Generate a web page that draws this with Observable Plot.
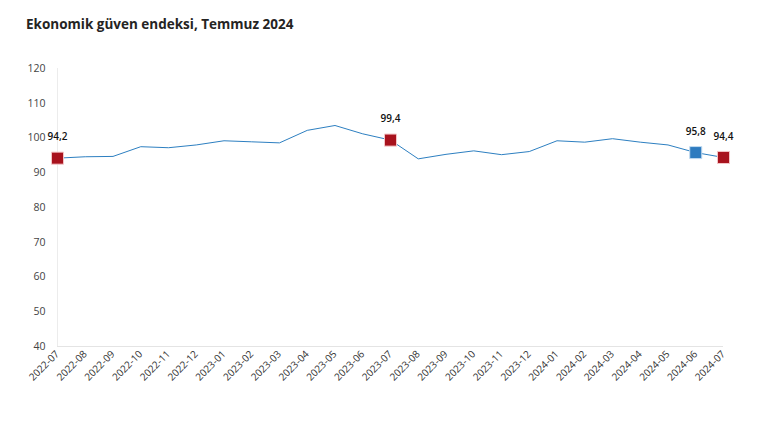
<!DOCTYPE html>
<html>
<head>
<meta charset="utf-8">
<script src="https://cdn.jsdelivr.net/npm/d3@7"></script>
<script src="https://cdn.jsdelivr.net/npm/@observablehq/plot@0.6"></script>
<style>
  html, body { margin: 0; padding: 0; background: #fff; }
  body { width: 761px; height: 421px; overflow: hidden; font-family: "Open Sans", "Noto Sans", sans-serif; }
  #title { position: absolute; left: 26px; top: 15px; font-size: 13.5px; font-weight: 700; color: #252423; letter-spacing: 0; }
  #chart { position: absolute; left: 0; top: 45px; }
</style>
</head>
<body>
<div id="title">Ekonomik güven endeksi, Temmuz 2024</div>
<div id="chart"></div>
<script>
const months = ["2022-07","2022-08","2022-09","2022-10","2022-11","2022-12","2023-01","2023-02","2023-03","2023-04","2023-05","2023-06","2023-07","2023-08","2023-09","2023-10","2023-11","2023-12","2024-01","2024-02","2024-03","2024-04","2024-05","2024-06","2024-07"];
const values = [94.2, 94.6, 94.7, 97.5, 97.2, 98.0, 99.2, 98.9, 98.6, 102.2, 103.6, 101.2, 99.4, 94.0, 95.3, 96.3, 95.2, 96.1, 99.2, 98.8, 99.8, 98.8, 98.0, 95.8, 94.4];
const highlightRed = ["2022-07", "2023-07", "2024-07"];
const highlightBlue = ["2024-06"];
const yTicks = [40, 50, 60, 70, 80, 90, 100, 110, 120];

const data = months.map((m, i) => ({i, month: m, value: values[i]}));
const redPts = data.filter(d => highlightRed.includes(d.month));
const bluePts = data.filter(d => highlightBlue.includes(d.month));
const labelPts = [...redPts, ...bluePts];
const fmt = v => v.toFixed(1).replace(".", ",");
const idx = months.map((m, i) => i);

const chart = Plot.plot({
  width: 761,
  height: 376,
  marginTop: 23,
  marginBottom: 75,
  marginLeft: 57,
  marginRight: 38,
  style: {fontFamily: "'Open Sans', 'Noto Sans', sans-serif", fontSize: "10px", color: "#333"},
  x: {type: "linear", domain: [0, months.length - 1], label: null},
  y: {domain: [40, 120], label: null},
  marks: [
    Plot.ruleY([40], {stroke: "#e4e4e4", strokeWidth: 1}),
    Plot.ruleX([0], {stroke: "#ececec", strokeWidth: 1}),
    Plot.axisY({ticks: yTicks, tickSize: 0, tickPadding: 12, fontSize: 10.5, fill: "#444"}),
    Plot.axisX({ticks: idx, tickFormat: i => months[i], tickSize: 0, tickRotate: -45, tickPadding: 6, fontSize: 10, fill: "#333"}),
    Plot.line(data, {x: "i", y: "value", stroke: "#2d7fc1", strokeWidth: 1}),
    Plot.dot(redPts, {x: "i", y: "value", symbol: "square", r: 6.8, fill: "#a8121d", stroke: "#f4c6c8", strokeWidth: 1}),
    Plot.dot(bluePts, {x: "i", y: "value", symbol: "square", r: 6.8, fill: "#2e7bbf", stroke: "#c3dcf1", strokeWidth: 1}),
    Plot.text(labelPts, {x: "i", y: "value", text: d => fmt(d.value), dy: -21, fontSize: 10, fontWeight: 600, fill: "#111"})
  ]
});
document.getElementById("chart").appendChild(chart);
</script>
</body>
</html>
